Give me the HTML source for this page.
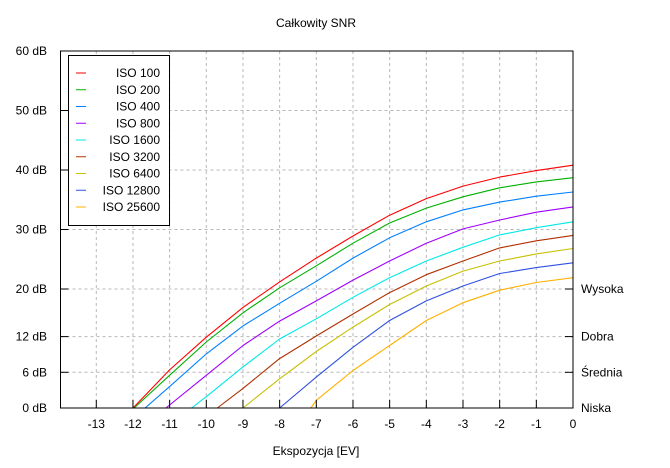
<!DOCTYPE html>
<html><head><meta charset="utf-8"><style>
body{margin:0;background:#fff}
svg text{font-family:"Liberation Sans","DejaVu Sans",sans-serif;font-size:12px;fill:#000}
</style></head><body>
<svg id="chart" width="670" height="463" viewBox="0 0 670 463">
<text x="316" y="27" text-anchor="middle">Całkowity SNR</text>
<text x="316" y="455" text-anchor="middle">Ekspozycja [EV]</text>
<g id="grid"></g><g id="series"></g><g id="axes"></g><g id="legend"></g>
</svg>
<script>
const evTicks=[-13,-12,-11,-10,-9,-8,-7,-6,-5,-4,-3,-2,-1,0];
const dbTicks=[0,6,12,20,30,40,50,60];
const qualityLabels=["Wysoka","Dobra","Średnia","Niska"];
const qualityValues=[20,12,6,0];
const seriesNames=["ISO 100","ISO 200","ISO 400","ISO 800","ISO 1600","ISO 3200","ISO 6400","ISO 12800","ISO 25600"];
const seriesColors=["#ff0000","#00b000","#0080ff","#a000ff","#00e8e8","#b03000","#c8c000","#3050e0","#ffb000"];
const xEv100=[-12,-11,-10,-9,-8,-7,-6,-5,-4,-3,-2,-1,0];
const yDb100=[0,6.4,11.9,16.9,21.2,25.2,28.9,32.4,35.2,37.3,38.8,39.9,40.8];
const xEv200=[-11.97,-11,-10,-9,-8,-7,-6,-5,-4,-3,-2,-1,0];
const yDb200=[0,5.5,11.1,16,20.2,23.9,27.7,31.1,33.6,35.5,37,38,38.7];
const xEv400=[-11.67,-11,-10,-9,-8,-7,-6,-5,-4,-3,-2,-1,0];
const yDb400=[0,3.6,9.1,13.8,17.6,21.3,25.2,28.6,31.3,33.3,34.6,35.6,36.3];
const xEv800=[-11.1,-11,-10,-9,-8,-7,-6,-5,-4,-3,-2,-1,0];
const yDb800=[0,0.5,5.5,10.5,14.6,18.0,21.5,24.7,27.7,30.1,31.6,32.9,33.8];
const xEv1600=[-10.4,-10,-9,-8,-7,-6,-5,-4,-3,-2,-1,0];
const yDb1600=[0,1.9,6.9,11.6,15,18.6,21.9,24.7,27,29.1,30.3,31.3];
const xEv3200=[-9.7,-9,-8,-7,-6,-5,-4,-3,-2,-1,0];
const yDb3200=[0,3.3,8.3,12.1,15.8,19.4,22.4,24.7,26.9,28.1,29];
const xEv6400=[-9,-8,-7,-6,-5,-4,-3,-2,-1,0];
const yDb6400=[0,4.9,9.5,13.6,17.4,20.5,23,24.7,25.9,26.8];
const xEv12800=[-8,-7,-6,-5,-4,-3,-2,-1,0];
const yDb12800=[0,5.2,10.2,14.7,18,20.5,22.6,23.6,24.4];
const xEv25600=[-7.15,-7,-6,-5,-4,-3,-2,-1,0];
const yDb25600=[0,1.3,6.3,10.5,14.7,17.7,19.8,21.1,21.9];

const NS="http://www.w3.org/2000/svg";
const L=60.5,R=573,T=51,B=408;
const X=ev=>573+36.67*ev;
const Y=db=>B-(B-T)*db/60;
function mk(tag,attrs,parent){const e=document.createElementNS(NS,tag);for(const k in attrs)e.setAttribute(k,attrs[k]);parent.appendChild(e);return e;}
const grid=document.getElementById('grid'),axes=document.getElementById('axes'),ser=document.getElementById('series'),leg=document.getElementById('legend');
evTicks.forEach(v=>{
  const g=mk('line',{x1:X(v),x2:X(v),y1:T,y2:B,stroke:'#b8b8b8','stroke-dasharray':'3,3'},grid);
  
  
  const t=mk('line',{x1:X(v),x2:X(v),y1:B,y2:B-8,stroke:'#000'},axes);
  
  
  const tx=mk('text',{x:X(v),y:B+20,'text-anchor':'middle'},axes);tx.textContent=v;
  
  
});
dbTicks.forEach(v=>{
  const g=mk('line',{x1:L,x2:R,y1:Y(v),y2:Y(v),stroke:'#b8b8b8','stroke-dasharray':'3,3'},grid);
  
  
  const t=mk('line',{x1:L,x2:L+8,y1:Y(v),y2:Y(v),stroke:'#000'},axes);
  
  
  const tx=mk('text',{x:47,y:Y(v)+4,'text-anchor':'end'},axes);tx.textContent=v+' dB';
  
  
});
qualityLabels.forEach((s,i)=>{
  const t=mk('line',{x1:R,x2:R-8,y1:Y(qualityValues[i]),y2:Y(qualityValues[i]),stroke:'#000'},axes);
  
  
  const tx=mk('text',{x:581,y:Y(qualityValues[i])+4},axes);tx.textContent=s;
  
  
});
const fr=mk('rect',{x:L,y:T,width:R-L,height:B-T,fill:'none',stroke:'#000'},axes);


const xs=[xEv100,xEv200,xEv400,xEv800,xEv1600,xEv3200,xEv6400,xEv12800,xEv25600];
const ys=[yDb100,yDb200,yDb400,yDb800,yDb1600,yDb3200,yDb6400,yDb12800,yDb25600];
xs.forEach((xa,i)=>{
  const pts=xa.map((e,j)=>X(e).toFixed(1)+','+Y(ys[i][j]).toFixed(1)).join(' ');
  const p=mk('polyline',{points:pts,fill:'none',stroke:seriesColors[i],'stroke-width':1.1,'stroke-linejoin':'round'},ser);
  
  
});
const lb=mk('rect',{x:68.5,y:55.5,width:101,height:170,fill:'#fff',stroke:'#000'},leg);


seriesNames.forEach((s,i)=>{
  const y=73+i*16.75;
  const l=mk('line',{x1:76,x2:86,y1:y,y2:y,stroke:seriesColors[i]},leg);
  
  
  const t=mk('text',{x:160,y:y+4,'text-anchor':'end'},leg);t.textContent=s;
  
  
});
</script>
</body></html>
